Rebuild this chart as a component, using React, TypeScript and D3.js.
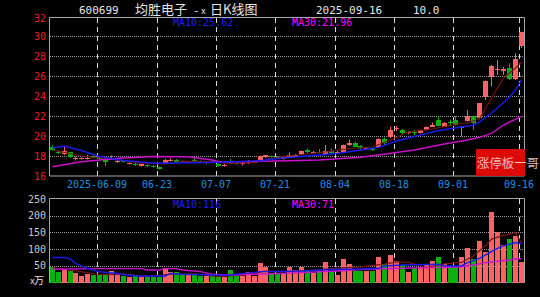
import React from 'react';
import * as d3 from 'd3';

// ---- data ----
const opens = [18.95,18.45,18.2,18.35,17.75,17.7,17.7,18.0,17.85,17.6,17.65,17.45,17.5,17.2,17.25,17.05,17.1,17.0,16.87,17.33,17.5,17.65,17.5,17.33,17.6,17.5,17.3,17.4,17.2,17.0,17.45,17.3,17.2,17.35,17.35,17.6,17.9,18.0,17.95,17.7,17.85,17.95,18.1,18.6,18.35,18.45,18.2,18.5,18.35,18.35,19.1,19.35,19.0,18.7,18.8,18.95,19.75,19.87,20.7,20.6,20.3,20.45,20.3,20.6,20.95,21.6,20.95,21.45,21.65,20.85,21.5,22.0,21.8,23.9,25.95,26.6,26.55,26.77,25.67,29.0];
const highs = [19.1,18.6,18.9,18.4,17.95,17.85,18.1,18.1,17.95,17.65,18.05,17.65,17.55,17.35,17.3,17.25,17.15,17.1,16.95,17.7,17.75,17.7,17.55,17.5,17.8,17.55,17.45,17.55,17.25,17.2,17.7,17.35,17.45,17.6,17.5,18.05,18.1,18.05,18.0,18.0,18.35,18.2,18.55,18.75,18.5,18.7,19.1,18.75,18.5,19.15,19.67,19.45,19.1,18.9,18.85,19.75,19.85,20.93,21.0,20.7,20.45,20.6,20.65,20.95,21.35,22.0,21.4,21.65,22.0,21.0,22.6,22.05,23.3,25.55,27.1,27.6,26.9,27.27,28.27,30.44];
const lows = [18.5,18.2,18.1,17.8,17.55,17.65,17.65,17.8,17.7,16.95,17.6,17.3,17.35,17.15,17.0,16.95,16.9,16.85,16.65,17.3,17.45,17.3,17.4,17.3,17.45,17.3,17.2,17.25,16.95,16.95,17.3,17.15,17.05,17.2,17.3,17.55,17.8,17.85,17.85,17.65,17.8,17.9,18.05,18.3,18.3,18.25,18.15,18.25,18.3,18.3,19.0,18.9,18.6,18.65,18.5,18.9,19.1,19.8,20.5,20.2,20.2,20.05,20.25,20.55,20.9,20.95,20.9,21.0,21.05,19.95,21.45,20.6,21.75,23.6,24.95,26.1,26.1,25.6,25.6,28.8];
const closes = [18.6,18.3,18.5,17.9,17.8,17.8,17.85,17.85,17.75,17.35,17.85,17.5,17.4,17.3,17.1,17.2,17.0,16.95,16.75,17.65,17.65,17.35,17.45,17.45,17.55,17.4,17.35,17.3,17.05,17.15,17.35,17.25,17.3,17.4,17.4,18.0,18.05,17.9,17.9,17.95,18.05,18.15,18.5,18.35,18.45,18.3,18.55,18.3,18.45,19.05,19.35,18.95,18.85,18.85,18.6,19.7,19.35,20.6,20.8,20.27,20.35,20.3,20.6,20.85,21.15,21.0,21.3,21.4,21.1,20.9,22.0,21.27,23.27,25.5,27.0,26.75,26.7,25.67,27.67,30.44];
const volumes = [45,30,41,34,28,20,25,22,22,25,34,25,19,16,22,15,17,17,17,42,31,31,24,23,23,19,19,19,16,17,37,19,19,31,19,57,46,25,25,25,46,37,46,35,27,34,62,34,22,70,55,33,33,33,33,76,55,82,65,51,32,44,45,52,65,76,54,48,49,76,102,70,124,91,212,151,112,130,140,61];
// [index, value] readings of the moving-average lines
const priceMA5 = [[0,18.6],[5,18.0],[10,17.7],[15,17.25],[19,17.2],[22,17.5],[26,17.45],[30,17.25],[34,17.35],[38,17.9],[42,18.15],[46,18.4],[50,18.75],[54,18.9],[57,19.6],[60,20.4],[64,20.7],[68,21.2],[70,21.3],[72,21.7],[74,23.8],[76,25.8],[77,26.3],[78,26.8],[79,27.4]];
const priceMA10 = [[0,18.8],[2,19.0],[5,18.55],[8,17.95],[12,17.55],[17,17.27],[21,17.3],[24,17.33],[28,17.37],[31,17.43],[35,17.53],[38,17.75],[42,17.95],[45,18.1],[48,18.25],[52,18.6],[55,18.85],[58,19.5],[62,20.1],[65,20.55],[69,20.9],[71,21.1],[72,21.4],[74,22.3],[75,22.8],[77,23.9],[78,24.6],[79,25.62]];
const priceMA30 = [[0,16.93],[5,17.43],[8,17.6],[11,17.77],[17,17.95],[23,17.93],[25,17.75],[27,17.6],[28,17.45],[31,17.43],[38,17.5],[45,17.6],[52,17.87],[55,18.1],[61,18.6],[66,19.2],[70,19.6],[72,19.87],[74,20.27],[76,21.1],[79,21.96]];
const volMA5 = [[0,45],[4,35],[8,24],[12,25],[16,18],[20,25],[24,26],[28,18],[32,22],[36,34],[40,33],[44,37],[48,43],[52,47],[56,55],[58,62],[60,60],[63,45],[66,56],[69,60],[71,80],[73,110],[74,130],[76,141],[78,149],[79,119]];
const volMA10 = [[0,75],[2,75],[3,70],[4,57],[6,42],[8,32],[11,27],[14,19.5],[19,19.5],[20,27],[22,24.5],[27,22.5],[30,22.5],[35,32.5],[37,32.5],[42,34.5],[48,39.5],[51,39.5],[55,42.5],[56,49.5],[59,52.5],[65,54.5],[66,49.5],[69,49.5],[70,59.5],[72,72.5],[74,92.5],[75,102.5],[76,109.5],[78,119.5],[79,116]];
const volMA30 = [[0,39.5],[8,41.5],[15,41.5],[16,37.5],[18,37.5],[19,41.5],[21,41.5],[22,37.5],[25,32.5],[27,24.5],[29,22.5],[36,25.5],[42,29.5],[48,34.5],[53,39.5],[59,42.5],[64,44.5],[68,45.5],[71,52.5],[73,59.5],[77,67.5],[78,71],[79,71]];

const priceTicks = [16, 18, 20, 22, 24, 26, 28, 30, 32];
const volTicks = [50, 100, 150, 200, 250];
const dateTickIndex = [8, 18, 28, 38, 48, 58, 68, 79];
const dateTickLabels = ['2025-06-09', '06-23', '07-07', '07-21', '08-04', '08-18', '09-01', '09-16'];

const titleCode = '600699';
const titleName = '均胜电子';
const titleDate = '2025-09-16';
const titlePct = '10.0';
const legendPriceMA10 = 'MA10:25.62';
const legendPriceMA30 = 'MA30:21.96';
const legendVolMA10 = 'MA10:116';
const legendVolMA30 = 'MA30:71';
const watermark = '涨停板一哥';

const UP = '#ff6262';
const DOWN = '#0cb00c';
const MONO = '"DejaVu Sans Mono", monospace';
const CJK = '"Noto Sans CJK SC", sans-serif';

export default function App() {
  const W = 540, H = 297;
  const L = 50, R = 524.5;
  const PT = 18, PB = 176, VT = 199, VB = 282.5;
  const idx = d3.range(closes.length);
  const x = d3.scaleBand<number>().domain(idx).range([49.7, 524.7]).paddingInner(0).paddingOuter(0);
  const yP = d3.scaleLinear().domain([16, 31.8]).range([PB, PT]);
  const yV = d3.scaleLinear().domain([0, 250]).range([VB, VT]);
  const left = (i: number) => Math.round(x(i) as number);
  const bodyW = 5;

  const lineP = d3.line<number[]>().x(d => left(d[0]) + 2.5).y(d => yP(d[1]));
  const lineV = d3.line<number[]>().x(d => left(d[0]) + 2.5).y(d => yV(d[1]));

  const gridGrey = '#9a9a9a';
  const borderGrey = '#a8a8a8';

  return (
    <svg width={W} height={H} style={{ position: 'absolute', left: 0, top: 0, background: '#000' }}>
      <rect x={0} y={0} width={W} height={H} fill="#000" />
      {/* title */}
      <text x={79} y={14} fill="#e6e6e6" fontFamily={MONO} fontSize={11}>{titleCode}</text>
      <text x={135} y={14} fill="#e6e6e6" fontFamily={CJK} fontSize={13}>{titleName}</text>
      <text x={193} y={14} fill="#e6e6e6" fontFamily={MONO} fontSize={11}>-</text>
      <text x={201} y={14} fill="#e6e6e6" fontFamily={MONO} fontSize={8}>x</text>
      <text x={210} y={14} fill="#e6e6e6" fontFamily={CJK} fontSize={13}>日K线图</text>
      <text x={316} y={14} fill="#e6e6e6" fontFamily={MONO} fontSize={11}>{titleDate}</text>
      <text x={413} y={14} fill="#e6e6e6" fontFamily={MONO} fontSize={11}>{titlePct}</text>

      {/* price grid */}
      {priceTicks.filter(t => t > 16 && t < 32).map(t => (
        <line key={'pg' + t} x1={L} x2={R} y1={Math.round(yP(t)) + 0.5} y2={Math.round(yP(t)) + 0.5} stroke={gridGrey} strokeDasharray="1,1" />
      ))}
      {volTicks.filter(t => t < 250).map(t => (
        <line key={'vg' + t} x1={L} x2={R} y1={Math.round(yV(t)) + 0.5} y2={Math.round(yV(t)) + 0.5} stroke={gridGrey} strokeDasharray="1,1" />
      ))}
      {/* vertical dashed date lines */}
      {dateTickIndex.map(i => (
        <g key={'vd' + i}>
          <line x1={left(i) + 0.5} x2={left(i) + 0.5} y1={PT} y2={PB} stroke="#d8d8d8" strokeDasharray="5,4" />
          <line x1={left(i) + 0.5} x2={left(i) + 0.5} y1={VT} y2={VB} stroke="#d8d8d8" strokeDasharray="5,4" />
        </g>
      ))}

      {/* panel borders */}
      <path d={`M${L - 0.5},${PT - 0.5}H${R}V${PB}H${L - 0.5}Z`} fill="none" stroke={borderGrey} />
      <path d={`M${L - 0.5},${VT - 0.5}H${R}V${VB}H${L - 0.5}Z`} fill="none" stroke={borderGrey} />

      {/* axis labels */}
      {priceTicks.map(t => (
        <text key={'pl' + t} x={46} y={Math.max(yP(t), PT)} dy="0.36em" textAnchor="end" fill="#ee1c1c" fontFamily={MONO} fontSize={10}>{t}</text>
      ))}
      {volTicks.map(t => (
        <text key={'vl' + t} x={46} y={yV(t)} dy="0.36em" textAnchor="end" fill="#c8c8c8" fontFamily={MONO} fontSize={10}>{t}</text>
      ))}
      <text x={30} y={284} fill="#e6e6e6" fontFamily={MONO} fontSize={8}>x</text>
      <text x={34} y={284} fill="#e6e6e6" fontFamily={CJK} fontSize={10}>万</text>
      {dateTickIndex.map((i, k) => (
        <text key={'dl' + i} x={left(i)} y={188} textAnchor="middle" fill="#1e8fe0" fontFamily={MONO} fontSize={10}>{dateTickLabels[k]}</text>
      ))}

      {/* legends */}
      <text x={173} y={26} fill="#1c1cff" fontFamily={MONO} fontSize={10}>{legendPriceMA10}</text>
      <text x={292} y={26} fill="#ff00ff" fontFamily={MONO} fontSize={10}>{legendPriceMA30}</text>
      <text x={173} y={208} fill="#1c1cff" fontFamily={MONO} fontSize={10}>{legendVolMA10}</text>
      <text x={292} y={208} fill="#ff00ff" fontFamily={MONO} fontSize={10}>{legendVolMA30}</text>

      {/* candles */}
      {idx.map(i => {
        const o = opens[i], c = closes[i], h = highs[i], l = lows[i];
        const up = c >= o;
        const col = up ? UP : DOWN;
        const xl = left(i);
        const top = Math.round(yP(Math.max(o, c)));
        const bot = Math.round(yP(Math.min(o, c)));
        return (
          <g key={'c' + i}>
            <line x1={xl + 2.5} x2={xl + 2.5} y1={yP(h)} y2={yP(l)} stroke={col} />
            <rect x={xl} y={top} width={bodyW} height={Math.max(1, bot - top)} fill={col} />
          </g>
        );
      })}
      {/* price MAs */}
      <path d={lineP(priceMA5) || ''} fill="none" stroke="#7a1414" strokeWidth={1.2} />
      <path d={lineP(priceMA30) || ''} fill="none" stroke="#cc10cc" strokeWidth={1.4} />
      <path d={lineP(priceMA10) || ''} fill="none" stroke="#1a1aee" strokeWidth={1.4} />

      {/* volume bars */}
      {idx.map(i => {
        const up = closes[i] >= opens[i];
        const top = Math.round(yV(volumes[i]));
        return <rect key={'v' + i} x={left(i)} y={top} width={bodyW} height={Math.round(VB) - top} fill={up ? UP : DOWN} />;
      })}
      <path d={lineV(volMA5) || ''} fill="none" stroke="#7a1414" strokeWidth={1.2} />
      <path d={lineV(volMA30) || ''} fill="none" stroke="#cc10cc" strokeWidth={1.4} />
      <path d={lineV(volMA10) || ''} fill="none" stroke="#1a1aee" strokeWidth={1.4} />

      {/* watermark box */}
      <rect x={476} y={149} width={49} height={27} fill="#dd0a0a" />
      <text x={477} y={168} fill="#f0cccc" fontFamily={CJK} fontSize={12.4} opacity={0.9}>{watermark}</text>
    </svg>
  );
}
